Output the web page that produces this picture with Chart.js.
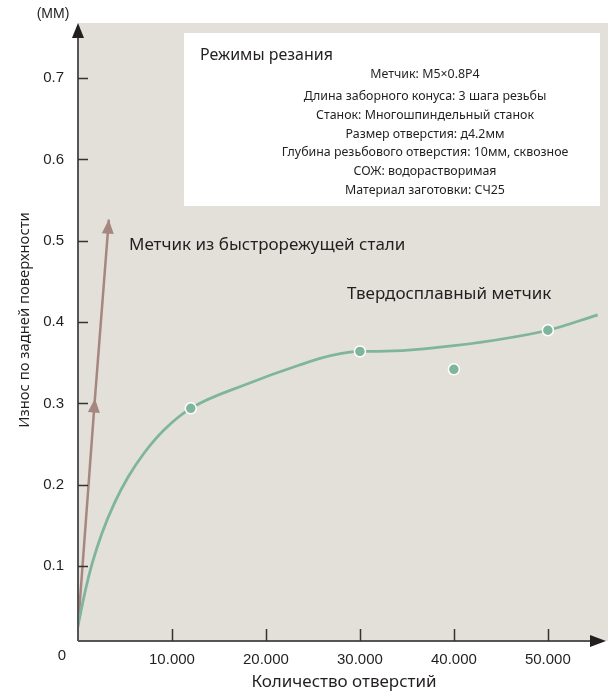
<!DOCTYPE html>
<html>
<head>
<meta charset="utf-8">
<script src="https://cdn.jsdelivr.net/npm/chart.js@4.4.1/dist/chart.umd.min.js"></script>
<style>
  html, body { margin: 0; padding: 0; background: #fff; }
  #wrap { width: 615px; height: 699px; }
</style>
</head>
<body>
<div id="wrap"><canvas id="chart" width="615" height="699"></canvas></div>
<script>
// tick values and labels
const xTicks = [10000, 20000, 30000, 40000, 50000];
const xTickLabels = ['10.000', '20.000', '30.000', '40.000', '50.000'];
const yTicks = [0.1, 0.2, 0.3, 0.4, 0.5, 0.6, 0.7];

// carbide tap wear curve
const carbideX = [0, 800, 1500, 2500, 3900, 5300, 7100, 9200, 12000, 18000, 23500, 27000, 30000, 32000, 40000, 50000, 55300];
const carbideY = [0.027, 0.071, 0.103, 0.139, 0.178, 0.209, 0.240, 0.268, 0.294, 0.324, 0.347, 0.359, 0.364, 0.364, 0.371, 0.390, 0.409];

// measured points
const measuredX = [12000, 30000, 40000, 50000];
const measuredY = [0.294, 0.364, 0.342, 0.390];

// HSS tap
const hssX = [0, 1800, 3280];
const hssY = [0.025, 0.306, 0.526];

const hssLabel = 'Метчик из быстрорежущей стали';
const carbideLabel = 'Твердосплавный метчик';
const boxTitle = 'Режимы резания';
const boxLines = [
  'Метчик: M5×0.8P4',
  'Длина заборного конуса: 3 шага резьбы',
  'Станок: Многошпиндельный станок',
  'Размер отверстия: д4.2мм',
  'Глубина резьбового отверстия: 10мм, сквозное',
  'СОЖ: водорастворимая',
  'Материал заготовки: СЧ25'
];
const boxLineY = [74, 96, 115, 134, 152, 171, 190];

const GREEN = '#7fb59c';
const BROWN = '#a6877f';
const INK = '#231f20';
const BEIGE = '#e3e0d9';

const toPoints = (xs, ys) => xs.map((x, i) => ({ x: x, y: ys[i] }));

function arrowHead(ctx, tipX, tipY, dirX, dirY, len, half) {
  const l = Math.hypot(dirX, dirY);
  const ux = dirX / l, uy = dirY / l;
  const bx = tipX - ux * len, by = tipY - uy * len;
  ctx.beginPath();
  ctx.moveTo(tipX, tipY);
  ctx.lineTo(bx - uy * half, by + ux * half);
  ctx.lineTo(bx + uy * half, by - ux * half);
  ctx.closePath();
  ctx.fill();
}

const decor = {
  id: 'decor',
  beforeDraw(chart) {
    const { ctx, chartArea: a } = chart;
    ctx.save();
    ctx.fillStyle = '#fff';
    ctx.fillRect(0, 0, chart.width, chart.height);
    ctx.fillStyle = BEIGE;
    ctx.fillRect(a.left, a.top, a.right - a.left, a.bottom - a.top);

    // conditions box
    ctx.fillStyle = '#fff';
    ctx.fillRect(184, 33, 416, 173);
    ctx.fillStyle = INK;
    ctx.textBaseline = 'middle';
    ctx.textAlign = 'left';
    ctx.font = '16px "Noto Sans"';
    ctx.fillText(boxTitle, 200, 55);
    ctx.textAlign = 'center';
    ctx.font = '12.4px "Noto Sans"';
    boxLines.forEach((t, i) => ctx.fillText(t, 425, boxLineY[i]));

    // curve labels
    ctx.textAlign = 'left';
    ctx.font = '17px "Noto Sans"';
    ctx.fillText(hssLabel, 129, 245);
    ctx.fillText(carbideLabel, 347, 294);
    ctx.restore();
  },
  afterDraw(chart) {
    const { ctx, chartArea: a, scales } = chart;
    const xs = scales.x, ys = scales.y;
    ctx.save();

    // axes
    ctx.strokeStyle = '#555';
    ctx.lineWidth = 2;
    ctx.beginPath();
    ctx.moveTo(a.left, a.bottom);
    ctx.lineTo(a.left, a.top + 10);
    ctx.moveTo(a.left, a.bottom);
    ctx.lineTo(a.right - 8, a.bottom);
    ctx.stroke();

    // tick marks inside
    ctx.strokeStyle = '#333';
    ctx.lineWidth = 1.5;
    ctx.beginPath();
    xTicks.forEach(v => {
      const px = Math.round(xs.getPixelForValue(v)) + 0.5;
      ctx.moveTo(px, a.bottom);
      ctx.lineTo(px, a.bottom - 12);
    });
    yTicks.forEach(v => {
      const py = Math.round(ys.getPixelForValue(v)) + 0.5;
      ctx.moveTo(a.left, py);
      ctx.lineTo(a.left + 10, py);
    });
    ctx.stroke();

    // axis arrows
    ctx.fillStyle = INK;
    arrowHead(ctx, a.left, a.top, 0, -1, 15, 6);
    arrowHead(ctx, a.right - 2, a.bottom, 1, 0, 16, 6);

    // HSS arrowheads
    ctx.fillStyle = BROWN;
    for (let i = 1; i < hssX.length; i++) {
      const px = xs.getPixelForValue(hssX[i]), py = ys.getPixelForValue(hssY[i]);
      const qx = xs.getPixelForValue(hssX[0]), qy = ys.getPixelForValue(hssY[0]);
      arrowHead(ctx, px, py, px - qx, py - qy, 14, 6);
    }

    // axis texts
    ctx.fillStyle = INK;
    ctx.textBaseline = 'middle';
    ctx.textAlign = 'center';
    ctx.font = '14px "Liberation Sans"';
    ctx.fillText('(MM)', 53, 14);
    ctx.font = '15px "Liberation Sans"';
    ctx.fillText('0', 62, 656);
    ctx.font = '17px "Noto Sans"';
    ctx.textBaseline = 'alphabetic';
    ctx.fillText('Количество отверстий', 344, 687);
    ctx.translate(25, 320);
    ctx.rotate(-Math.PI / 2);
    ctx.textBaseline = 'middle';
    ctx.font = '14.8px "Noto Sans"';
    ctx.fillText('Износ по задней поверхности', 0, 0);
    ctx.restore();
  }
};

new Chart(document.getElementById('chart'), {
  type: 'scatter',
  data: {
    datasets: [
      {
        label: 'measured',
        data: toPoints(measuredX, measuredY),
        showLine: false,
        pointRadius: 5.5,
        pointBackgroundColor: GREEN,
        pointBorderColor: '#fff',
        pointBorderWidth: 1.5
      },
      {
        label: 'carbide',
        data: toPoints(carbideX, carbideY),
        showLine: true,
        borderColor: GREEN,
        borderWidth: 2.8,
        pointRadius: 0,
        cubicInterpolationMode: 'monotone'
      },
      {
        label: 'hss',
        data: toPoints(hssX, hssY),
        showLine: true,
        borderColor: BROWN,
        borderWidth: 2.5,
        pointRadius: 0
      }
    ]
  },
  options: {
    responsive: false,
    animation: false,
    devicePixelRatio: 1,
    layout: { padding: { left: 0, right: 0, top: 18, bottom: 0 } },
    plugins: {
      legend: { display: false },
      tooltip: { enabled: false }
    },
    scales: {
      x: {
        type: 'linear',
        min: 0,
        max: 56400,
        afterFit: s => { s.height = 58; },
        afterBuildTicks: s => { s.ticks = xTicks.map(v => ({ value: v })); },
        grid: { display: false, drawTicks: false },
        border: { display: false },
        ticks: {
          padding: 10,
          maxRotation: 0,
          autoSkip: false,
          color: INK,
          font: { family: 'Liberation Sans', size: 15 },
          callback: v => xTickLabels[xTicks.indexOf(v)]
        }
      },
      y: {
        type: 'linear',
        min: 0.008,
        max: 0.7677,
        afterFit: s => { s.width = 78; },
        afterBuildTicks: s => { s.ticks = yTicks.map(v => ({ value: v })); },
        grid: { display: false, drawTicks: false },
        border: { display: false },
        ticks: {
          padding: 14,
          color: INK,
          font: { family: 'Liberation Sans', size: 15 },
          callback: v => v.toFixed(1)
        }
      }
    }
  },
  plugins: [decor]
});
</script>
</body>
</html>
